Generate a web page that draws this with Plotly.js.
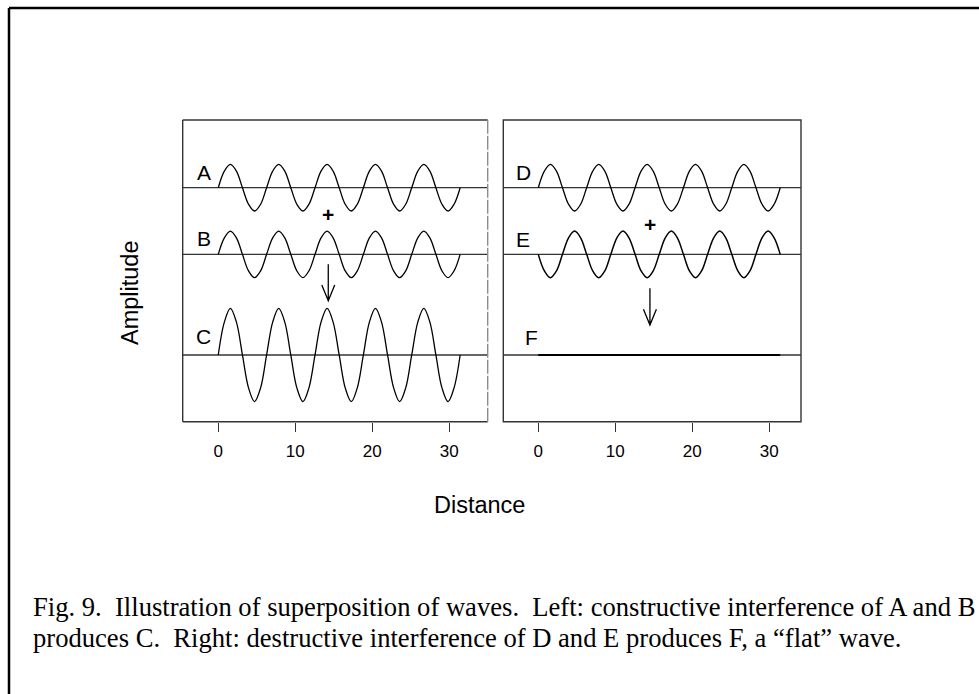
<!DOCTYPE html>
<html>
<head>
<meta charset="utf-8">
<script src="https://cdn.plot.ly/plotly-3.0.1.min.js"></script>
<style>
  html, body { margin: 0; padding: 0; background: #ffffff; }
  #fig { width: 979px; height: 694px; }
</style>
</head>
<body>
<div id="fig"></div>
<script>
// Sample positions along the distance axis (eighth-period steps, five full cycles)
const distance = [0, 0.79, 1.57, 2.36, 3.14, 3.93, 4.71, 5.50, 6.28, 7.07,
  7.85, 8.64, 9.42, 10.21, 11.00, 11.78, 12.57, 13.35, 14.14, 14.92,
  15.71, 16.49, 17.28, 18.06, 18.85, 19.63, 20.42, 21.21, 21.99, 22.78,
  23.56, 24.35, 25.13, 25.92, 26.70, 27.49, 28.27, 29.06, 29.85, 30.63, 31.42];

// Unit-amplitude wave (A, B and D are identical)
const waveA = [0, 0.71, 1, 0.71, 0, -0.71, -1, -0.71,
  0, 0.71, 1, 0.71, 0, -0.71, -1, -0.71,
  0, 0.71, 1, 0.71, 0, -0.71, -1, -0.71,
  0, 0.71, 1, 0.71, 0, -0.71, -1, -0.71,
  0, 0.71, 1, 0.71, 0, -0.71, -1, -0.71, 0];
const waveB = waveA.slice();
// Constructive sum: double amplitude
const waveC = [0, 1.41, 2, 1.41, 0, -1.41, -2, -1.41,
  0, 1.41, 2, 1.41, 0, -1.41, -2, -1.41,
  0, 1.41, 2, 1.41, 0, -1.41, -2, -1.41,
  0, 1.41, 2, 1.41, 0, -1.41, -2, -1.41,
  0, 1.41, 2, 1.41, 0, -1.41, -2, -1.41, 0];
const waveD = waveA.slice();
// Opposite phase
const waveE = [0, -0.71, -1, -0.71, 0, 0.71, 1, 0.71,
  0, -0.71, -1, -0.71, 0, 0.71, 1, 0.71,
  0, -0.71, -1, -0.71, 0, 0.71, 1, 0.71,
  0, -0.71, -1, -0.71, 0, 0.71, 1, 0.71,
  0, -0.71, -1, -0.71, 0, 0.71, 1, 0.71, 0];
// Destructive sum: flat
const waveF = new Array(distance.length).fill(0);

// Vertical offsets of the three stacked rows (top, middle, bottom)
const rowLevels = [7.18, 4.32, 0];
const leftLabels = ['A', 'B', 'C'];
const rightLabels = ['D', 'E', 'F'];
const xTicks = [0, 10, 20, 30];

const sans = 'Liberation Sans, Arial, sans-serif';
const serif = 'Liberation Serif, Times New Roman, serif';

function shifted(wave, level) { return wave.map(v => v + level); }

function waveTrace(wave, level, xa, ya, w) {
  return {
    x: distance, y: shifted(wave, level), xaxis: xa, yaxis: ya,
    type: 'scatter', mode: 'lines',
    line: { color: '#000000', width: w || 1.3, shape: 'spline', smoothing: 1 },
    hoverinfo: 'skip', showlegend: false
  };
}

const traces = [
  waveTrace(waveA, rowLevels[0], 'x', 'y'),
  waveTrace(waveB, rowLevels[1], 'x', 'y'),
  waveTrace(waveC, rowLevels[2], 'x', 'y'),
  waveTrace(waveD, rowLevels[0], 'x2', 'y2'),
  waveTrace(waveE, rowLevels[1], 'x2', 'y2', 1.5),
  waveTrace(waveF, rowLevels[2], 'x2', 'y2', 2.2)
];

const W = 979, H = 694;
const px = v => v / W;
const py = v => 1 - v / H;

const shapes = [];
// zero lines under every wave, spanning each panel
['x', 'x2'].forEach((xa, i) => {
  const ya = i === 0 ? 'y' : 'y2';
  rowLevels.forEach(lv => {
    shapes.push({ type: 'line', xref: xa + ' domain', yref: ya, x0: 0, x1: 1, y0: lv, y1: lv,
      line: { color: '#333333', width: 1.3 }, layer: 'below' });
  });
});
// panel frames
const dark = { color: '#333333', width: 1.4 };
shapes.push({ type: 'line', xref: 'x domain', yref: 'y domain', x0: 0, x1: 0, y0: 0, y1: 1, line: dark });
shapes.push({ type: 'line', xref: 'x domain', yref: 'y domain', x0: 0, x1: 1, y0: 0, y1: 0, line: dark });
shapes.push({ type: 'line', xref: 'x domain', yref: 'y domain', x0: 0, x1: 1, y0: 1, y1: 1, line: dark });
shapes.push({ type: 'line', xref: 'x domain', yref: 'y domain', x0: 1, x1: 1, y0: 0, y1: 1,
  line: { color: '#8c8c8c', width: 1.4, dash: '14px,2px' } });
shapes.push({ type: 'rect', xref: 'x2 domain', yref: 'y2 domain', x0: 0, x1: 1, y0: 0, y1: 1, line: dark });
// outer figure border (top and left)
shapes.push({ type: 'line', xref: 'paper', yref: 'paper', x0: px(9), x1: px(990), y0: py(8), y1: py(8),
  line: { color: '#000000', width: 2.5 } });
shapes.push({ type: 'line', xref: 'paper', yref: 'paper', x0: px(9), x1: px(9), y0: py(8), y1: py(700),
  line: { color: '#000000', width: 2.5 } });

// downward arrows with open heads
function arrow(xa, ya, x, yTop, yTip) {
  const hw = 0.84, hl = 0.67;
  shapes.push({ type: 'path', xref: xa, yref: ya,
    path: `M ${x} ${yTop} L ${x} ${yTip} M ${x - hw} ${yTip + hl} L ${x} ${yTip} L ${x + hw} ${yTip + hl}`,
    line: { color: '#000000', width: 1.3 } });
}
arrow('x', 'y', 14.29, 3.9, 2.33);
arrow('x2', 'y2', 14.5, 2.86, 1.29);

const annotations = [];
function label(text, xa, ya, x, y, size) {
  annotations.push({ text, xref: xa, yref: ya, x, y, showarrow: false,
    xanchor: 'center', yanchor: 'middle', font: { family: sans, size: size || 21, color: '#000000' } });
}
label(leftLabels[0], 'x', 'y', -1.86, 7.85);
label(leftLabels[1], 'x', 'y', -1.86, 5.01);
label(leftLabels[2], 'x', 'y', -1.86, 0.79);
label(rightLabels[0], 'x2', 'y2', -1.86, 7.83);
label(rightLabels[1], 'x2', 'y2', -1.99, 4.94);
label(rightLabels[2], 'x2', 'y2', -0.88, 0.75);
label('<b>+</b>', 'x', 'y', 14.29, 6.01, 21);
label('<b>+</b>', 'x2', 'y2', 14.5, 5.58, 21);

// axis titles
annotations.push({ text: 'Distance', xref: 'paper', yref: 'paper', x: px(479.5), y: py(505),
  showarrow: false, xanchor: 'center', yanchor: 'middle', font: { family: sans, size: 23.5, color: '#000000' } });
annotations.push({ text: 'Amplitude', xref: 'paper', yref: 'paper', x: px(130), y: py(293),
  showarrow: false, xanchor: 'center', yanchor: 'middle', textangle: -90,
  font: { family: sans, size: 23.5, color: '#000000' } });

// figure caption
const nb = '\u00a0';
annotations.push({ text: 'Fig. 9.' + nb + nb + 'Illustration of superposition of waves.' + nb + nb +
  'Left: constructive interference of A and B',
  xref: 'paper', yref: 'paper', x: px(31), y: py(607), showarrow: false,
  xanchor: 'left', yanchor: 'middle', font: { family: serif, size: 26.6, color: '#000000' } });
annotations.push({ text: 'produces C.' + nb + nb + 'Right: destructive interference of D and E produces F, a \u201cflat\u201d wave.',
  xref: 'paper', yref: 'paper', x: px(31), y: py(638), showarrow: false,
  xanchor: 'left', yanchor: 'middle', font: { family: serif, size: 26.6, color: '#000000' } });

const xCommon = {
  tickvals: xTicks, ticktext: xTicks.map(String), ticks: 'outside', ticklen: 9, tickwidth: 1.3,
  tickcolor: '#333333', showgrid: false, zeroline: false, showline: false, fixedrange: true,
  ticklabelstandoff: 5,
  tickfont: { family: sans, size: 17, color: '#000000' }
};
const yCommon = {
  range: [-2.863, 10.086], showgrid: false, zeroline: false, showline: false,
  showticklabels: false, ticks: '', fixedrange: true,
  domain: [py(421.7), py(120)]
};

const layout = {
  width: W, height: H,
  margin: { l: 0, r: 0, t: 0, b: 0 },
  paper_bgcolor: '#ffffff', plot_bgcolor: 'rgba(0,0,0,0)',
  showlegend: false,
  xaxis: Object.assign({}, xCommon, { domain: [px(182.7), px(487.7)], range: [-4.62, 35.0], anchor: 'y' }),
  xaxis2: Object.assign({}, xCommon, { domain: [px(503.3), px(801)], range: [-4.545, 34.12], anchor: 'y2' }),
  yaxis: Object.assign({}, yCommon, { anchor: 'x' }),
  yaxis2: Object.assign({}, yCommon, { anchor: 'x2' }),
  shapes, annotations
};

Plotly.newPlot('fig', traces, layout, { staticPlot: true, displayModeBar: false });
</script>
</body>
</html>
